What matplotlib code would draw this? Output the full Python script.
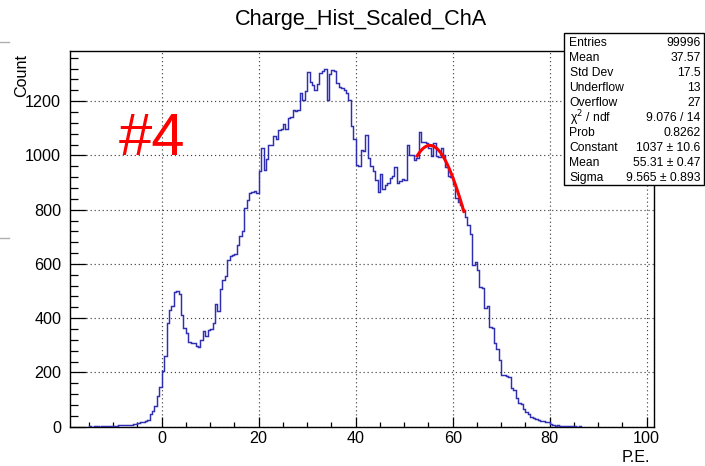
import numpy as np
import matplotlib
matplotlib.use('Agg')
import matplotlib.pyplot as plt
from matplotlib.patches import Rectangle
from matplotlib.lines import Line2D
from matplotlib.ticker import MultipleLocator

plt.rcParams['font.family'] = ['Liberation Sans', 'DejaVu Sans']

# ---------------- data ----------------
title = "Charge_Hist_Scaled_ChA"
x_label = "P.E."
y_label = "Count"
annotation = "#4"

bin_start = -15.0
bin_width = 0.5
counts_neg = [1, 0, 1, 1, 0, 1, 2, 1, 2, 3,
              3, 4, 5, 5, 6, 7, 8, 8, 9, 10,
              14, 16, 17, 22, 25, 45, 58, 76, 113, 145]
counts_0_20 = [204, 261, 384, 432, 445, 498, 502, 488, 411, 362,
               346, 312, 309, 307, 299, 292, 319, 353, 334, 356,
               361, 383, 454, 427, 508, 540, 557, 614, 631, 634,
               637, 668, 704, 720, 806, 835, 860, 866, 869, 860]
counts_20_40 = [942, 1028, 948, 988, 1037, 1040, 1070, 1061, 1094, 1096,
                1116, 1098, 1139, 1141, 1166, 1164, 1168, 1229, 1205, 1237,
                1307, 1269, 1259, 1242, 1262, 1305, 1310, 1319, 1205, 1300,
                1315, 1313, 1266, 1254, 1248, 1240, 1229, 1205, 1107, 1060]
counts_40_64 = [966, 962, 1020, 1017, 1075, 991, 960, 944, 910, 866,
                932, 876, 892, 900, 916, 925, 957, 898, 904, 913,
                910, 1039, 1002, 1000, 984, 990, 1085, 1048, 1048, 1045,
                1027, 999, 1045, 999, 996, 1027, 1000, 957, 925, 920,
                896, 843, 830, 818, 800, 773, 742, 712]
counts_64_86 = [595, 607, 577, 515, 512, 439, 444, 366, 363, 309,
                288, 245, 190, 192, 188, 184, 141, 137, 104, 88,
                83, 67, 55, 47, 34, 33, 27, 26, 22, 21,
                18, 17, 10, 8, 4, 5, 3, 4, 2, 3,
                2, 1, 1, 0, 1]
counts = counts_neg + counts_0_20 + counts_20_40 + counts_40_64 + counts_64_86

x_range = (-19.0, 101.5)
x_ticks = [0, 20, 40, 60, 80, 100]
y_ticks = [0, 200, 400, 600, 800, 1000, 1200]

fit_constant = 1037.0
fit_mean = 55.31
fit_sigma = 9.565
fit_range = (52.5, 62.4)

stats_labels = ["Entries", "Mean", "Std Dev", "Underflow", "Overflow",
                "\u03c7$^{2}$ / ndf", "Prob", "Constant", "Mean", "Sigma"]
stats_values = ["99996", "37.57", "17.5", "13", "27",
                "9.076 / 14", "0.8262", "1037 \u00b1 10.6",
                "55.31 \u00b1 0.47", "9.565 \u00b1 0.893"]

# ---------------- figure ----------------
W, H = 705, 466
fig = plt.figure(figsize=(W / 100, H / 100), dpi=100)
fig.patch.set_facecolor('white')


def fx(px):
    return px / W


def fy(py):
    return 1 - py / H


ax_l, ax_r, ax_t, ax_b = 69.5, 654.0, 51.0, 426.7
ax = fig.add_axes([fx(ax_l), fy(ax_b), (ax_r - ax_l) / W, (ax_b - ax_t) / H])

edges = bin_start + bin_width * np.arange(len(counts) + 1)
ax.stairs(counts, edges, color='#2e2eb0', lw=1.05, baseline=0, zorder=3)

xf = np.linspace(fit_range[0], fit_range[1], 200)
yf = fit_constant * np.exp(-0.5 * ((xf - fit_mean) / fit_sigma) ** 2)
ax.plot(xf, yf, color='#ff0000', lw=2.2, zorder=4, solid_capstyle='butt')

ax.set_xlim(*x_range)
ax.set_ylim(0, 1.05 * max(counts))
ax.set_xticks(x_ticks)
ax.set_yticks(y_ticks)
ax.xaxis.set_minor_locator(MultipleLocator(5))
ax.yaxis.set_minor_locator(MultipleLocator(40))
ax.set_axisbelow(True)
ax.grid(which='major', linestyle=(0, (1, 2.4)), color='#444444', lw=0.85)

ax.tick_params(axis='both', which='both', direction='in', top=False, right=False,
               width=0.9, color='black', labelsize=11.6)
ax.tick_params(axis='x', which='major', length=7.5, pad=3)
ax.tick_params(axis='x', which='minor', length=3.8)
ax.tick_params(axis='y', which='major', length=11.5, pad=6)
ax.tick_params(axis='y', which='minor', length=5.8)
for s in ax.spines.values():
    s.set_linewidth(1.0)
    s.set_color('black')

# titles
fig.text(fx(361), fy(20), title, ha='center', va='center', fontsize=15.6)
fig.text(fx(650), fy(458), x_label, ha='right', va='center', fontsize=11.6)
fig.text(fx(22), fy(54), y_label, ha='center', va='top', rotation=90, fontsize=11.6)

# annotation
fig.text(fx(119), fy(155), annotation, ha='left', va='baseline',
         fontsize=43, color='#ff0000')

# stats box
bx0, bx1, by0, by1 = 564, 704, 33, 185
fig.add_artist(Rectangle((fx(bx0), fy(by1)), (bx1 - bx0) / W, (by1 - by0) / H,
                         transform=fig.transFigure, facecolor='white',
                         edgecolor='black', lw=1.0, zorder=5))
row0, drow = 43.5, 14.9
for i, (lab, val) in enumerate(zip(stats_labels, stats_values)):
    yy = fy(row0 + i * drow)
    fig.text(fx(569.5), yy, lab, ha='left', va='center', fontsize=8.7, zorder=6)
    fig.text(fx(700.5), yy, val, ha='right', va='center', fontsize=8.7, zorder=6)

# fragments of a neighbouring pad at the left border
for yy in (42, 238):
    fig.add_artist(Line2D([0, fx(9)], [fy(yy), fy(yy)], transform=fig.transFigure,
                          color='#b0b0b0', lw=1.0))

fig.savefig('out.png', dpi=100, facecolor='white')
